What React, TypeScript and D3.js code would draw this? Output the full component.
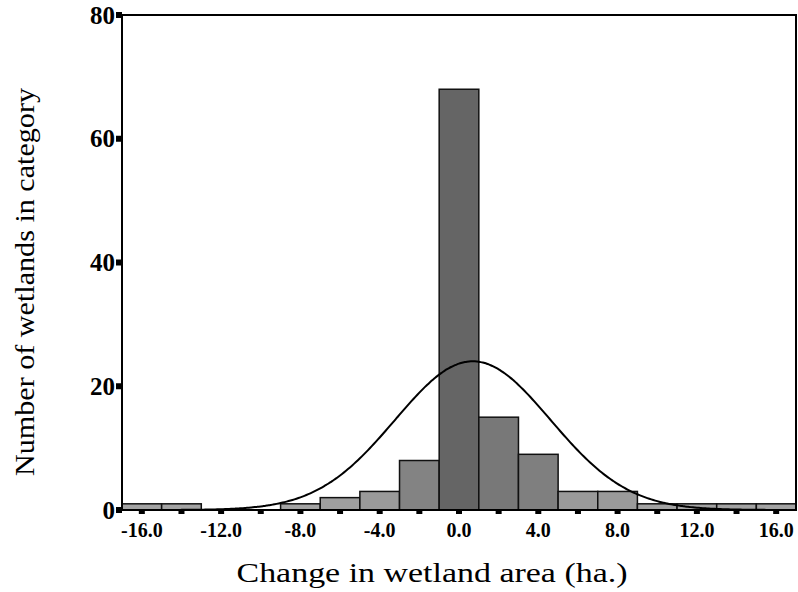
import React from "react";
import * as d3 from "d3";

// bin centres (ha.) and number of wetlands in each bin
const binCenters = [-16, -14, -12, -10, -8, -6, -4, -2, 0, 2, 4, 6, 8, 10, 12, 14, 16];
const counts = [1, 1, 0, 0, 1, 2, 3, 8, 68, 15, 9, 3, 3, 1, 1, 1, 1];
const binWidth = 2;
const xTickLabels = ["-16.0", "-12.0", "-8.0", "-4.0", "0.0", "4.0", "8.0", "12.0", "16.0"];
const yTicks = [0, 20, 40, 60, 80];

const width = 798;
const height = 592;

const x = d3.scaleLinear().domain([-17, 17]).range([122, 796]);
const y = d3.scaleLinear().domain([0, 80]).range([510, 15]);
const shade = d3.scaleLinear<string>().domain([0, 10, 68]).range(["#a8a8a8", "#7a7a7a", "#656565"]);

// fitted normal curve from the binned data
const n = d3.sum(counts);
const mean = d3.sum(binCenters, (c, i) => c * counts[i]) / n;
const sd = Math.sqrt(d3.sum(binCenters, (c, i) => (c - mean) ** 2 * counts[i]) / n);
const curvePts = d3.range(-17, 17.01, 0.1).map((v) => [
  v,
  (n * binWidth * Math.exp(-((v - mean) ** 2) / (2 * sd * sd))) / (sd * Math.sqrt(2 * Math.PI)),
]);
const line = d3
  .line<number[]>()
  .x((d) => x(d[0]))
  .y((d) => y(d[1]))
  .curve(d3.curveBasis);

const App = () => {
  const x0 = x.range()[0];
  const x1 = x.range()[1];
  const yTop = y(80);
  const yBot = y(0);
  return (
    <svg
      width={width}
      height={height}
      style={{ position: "absolute", left: 0, top: 0, background: "white", fontFamily: "'Liberation Serif', serif" }}
    >
      <rect x={0} y={0} width={width} height={height} fill="white" />

      {binCenters.map((c, i) =>
        counts[i] > 0 ? (
          <rect
            key={i}
            x={x(c - binWidth / 2)}
            y={y(counts[i])}
            width={x(c + binWidth / 2) - x(c - binWidth / 2)}
            height={yBot - y(counts[i])}
            fill={shade(counts[i])}
            stroke="#111"
            strokeWidth={1.5}
          />
        ) : null
      )}

      <path d={line(curvePts) || ""} fill="none" stroke="#000" strokeWidth={2} />

      {/* frame */}
      <rect x={x0} y={yTop} width={x1 - x0} height={yBot - yTop} fill="none" stroke="#000" strokeWidth={2} />

      {/* y ticks */}
      {yTicks.map((t) => (
        <g key={t}>
          <rect x={x0 - 6} y={y(t) - 3} width={6} height={6} fill="#000" />
          <text
            x={x0 - 7}
            y={y(t)}
            textAnchor="end"
            dominantBaseline="central"
            fontSize={25}
            fontWeight="bold"
          >
            {t}
          </text>
        </g>
      ))}

      {/* x ticks at bin centres */}
      {binCenters.map((c) => (
        <rect key={c} x={x(c) - 3} y={yBot + 1} width={6} height={3} fill="#000" />
      ))}
      {xTickLabels.map((l) => (
        <text key={l} x={x(+l)} y={537} textAnchor="middle" fontSize={20} fontWeight="bold">
          {l}
        </text>
      ))}

      <text
        x={432}
        y={582}
        textAnchor="middle"
        fontSize={27}
        textLength={391}
        lengthAdjust="spacingAndGlyphs"
      >
        Change in wetland area (ha.)
      </text>
      <text
        transform={`translate(34, 282) rotate(-90)`}
        textAnchor="middle"
        fontSize={27}
        textLength={388}
        lengthAdjust="spacingAndGlyphs"
      >
        Number of wetlands in category
      </text>
    </svg>
  );
};

export default App;
